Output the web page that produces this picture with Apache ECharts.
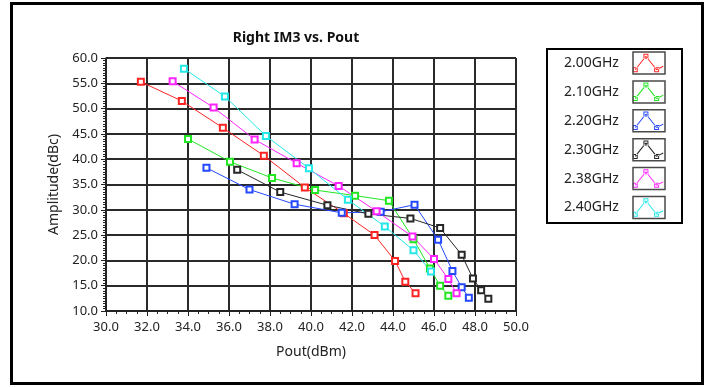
<!DOCTYPE html>
<html>
<head>
<meta charset="utf-8">
<script src="https://cdn.jsdelivr.net/npm/echarts@6/dist/echarts.min.js"></script>
<style>
html,body{margin:0;padding:0;background:#fff;}
#chart{width:710px;height:387px;}
</style>
</head>
<body>
<div id="chart"></div>
<script>
// ---- data ----
var seriesNames = ['2.00GHz', '2.10GHz', '2.20GHz', '2.30GHz', '2.38GHz', '2.40GHz'];
var xTicks = [30, 32, 34, 36, 38, 40, 42, 44, 46, 48, 50];
var yTicks = [10, 15, 20, 25, 30, 35, 40, 45, 50, 55, 60];

var pout200 = [31.7, 33.7, 35.7, 37.7, 39.7, 41.6, 43.1, 44.1, 44.6, 45.1];
var im3_200 = [55.3, 51.5, 46.2, 40.7, 34.4, 29.3, 25.0, 19.9, 15.8, 13.5];

var pout210 = [34.0, 36.05, 38.1, 40.2, 42.15, 43.8, 45.0, 45.8, 46.3, 46.7];
var im3_210 = [44.0, 39.5, 36.3, 33.9, 32.8, 31.8, 24.2, 18.4, 15.0, 13.0];

var pout220 = [34.9, 37.0, 39.2, 41.5, 43.4, 45.05, 46.2, 46.9, 47.35, 47.7];
var im3_220 = [38.3, 34.0, 31.1, 29.4, 29.6, 31.0, 24.1, 17.9, 14.7, 12.6];

var pout230 = [36.4, 38.5, 40.8, 42.8, 44.85, 46.3, 47.35, 47.9, 48.3, 48.65];
var im3_230 = [37.9, 33.5, 30.9, 29.2, 28.3, 26.4, 21.1, 16.4, 14.1, 12.4];

var pout238 = [33.25, 35.25, 37.25, 39.3, 41.35, 43.2, 44.95, 46.0, 46.7, 47.1];
var im3_238 = [55.4, 50.2, 43.9, 39.2, 34.7, 29.7, 24.7, 20.3, 16.3, 13.5];

var pout240 = [33.8, 35.8, 37.8, 39.9, 41.8, 43.6, 45.0, 45.85];
var im3_240 = [57.9, 52.4, 44.6, 38.2, 32.0, 26.7, 22.0, 17.8];

var seriesX = [pout200, pout210, pout220, pout230, pout238, pout240];
var seriesY = [im3_200, im3_210, im3_220, im3_230, im3_238, im3_240];

// ---- styles ----
var colors = ['#ff2424', '#22e622', '#2448ff', '#262626', '#ff24ff', '#24e8e8'];
var FONT = 'Noto Sans';

function pairs(xs, ys) {
  var out = [];
  for (var i = 0; i < xs.length; i++) out.push([xs[i], ys[i]]);
  return out;
}

// legend icon: zigzag line with hollow square markers, in a 32x22 box
function seg(ax, ay, bx, by, t) {
  var dx = bx - ax, dy = by - ay, L = Math.sqrt(dx * dx + dy * dy);
  var nx = -dy / L * t, ny = dx / L * t;
  return 'M' + (ax + nx) + ' ' + (ay + ny) + 'L' + (bx + nx) + ' ' + (by + ny) +
         'L' + (bx - nx) + ' ' + (by - ny) + 'L' + (ax - nx) + ' ' + (ay - ny) + 'Z';
}
function hsq(cx, cy, s, w) {
  var o = s / 2, i = o - w;
  return 'M' + (cx - o) + ' ' + (cy - o) + 'L' + (cx + o) + ' ' + (cy - o) + 'L' + (cx + o) + ' ' + (cy + o) + 'L' + (cx - o) + ' ' + (cy + o) + 'Z' +
         'M' + (cx - i) + ' ' + (cy - i) + 'L' + (cx - i) + ' ' + (cy + i) + 'L' + (cx + i) + ' ' + (cy + i) + 'L' + (cx + i) + ' ' + (cy - i) + 'Z';
}
var iconPath = 'path://' +
  'M0 0L0.01 0L0.01 0.01L0 0.01Z' + 'M32 22L31.99 22L31.99 21.99L32 21.99Z' +
  seg(3.3, 17.7, 14, 4.2, 0.5) + seg(14, 4.2, 24.7, 17.7, 0.5) + seg(24.7, 17.7, 31.3, 14.3, 0.5) +
  hsq(3.3, 17.7, 5, 1) + hsq(14, 4.2, 5, 1) + hsq(24.7, 17.7, 5, 1);

var series = [];
for (var k = 0; k < seriesNames.length; k++) {
  series.push({
    name: seriesNames[k],
    type: 'line',
    data: pairs(seriesX[k], seriesY[k]),
    symbol: 'emptyRect',
    symbolSize: 6,
    showSymbol: true,
    lineStyle: { width: 1, color: colors[k] },
    itemStyle: { color: colors[k], borderWidth: 1 },
    emphasis: { disabled: true },
    animation: false
  });
}

var chart = echarts.init(document.getElementById('chart'), null, { renderer: 'canvas' });

var legendBoxes = [];
for (var j = 0; j < seriesNames.length; j++) {
  legendBoxes.push({
    type: 'rect', silent: true, z: 5,
    shape: { x: 633, y: 52 + j * 28.9, width: 32, height: 22 },
    style: { fill: 'none', stroke: '#4a4a4a', lineWidth: 1.5 }
  });
}

chart.setOption({
  backgroundColor: '#fff',
  animation: false,
  color: colors,
  title: {
    text: 'Right IM3 vs. Pout',
    left: 291, top: 26, textAlign: 'center',
    textStyle: { fontFamily: FONT, fontSize: 14, fontWeight: 'bold', color: '#111' }
  },
  grid: { left: 106, top: 58, width: 410, height: 253, show: true, borderColor: '#222', borderWidth: 1, backgroundColor: '#fff' },
  legend: {
    data: seriesNames,
    orient: 'vertical',
    left: 564, top: 52,
    padding: 0,
    align: 'right',
    itemWidth: 32, itemHeight: 22, itemGap: 6.9,
    icon: iconPath,
    selectedMode: false,
    textStyle: { fontFamily: FONT, fontSize: 14, color: '#222', padding: [0, 8, 0, 0] }
  },
  xAxis: {
    type: 'value', min: xTicks[0], max: xTicks[xTicks.length - 1], interval: 2,
    name: 'Pout(dBm)', nameLocation: 'middle', nameGap: 34,
    nameTextStyle: { fontFamily: FONT, fontSize: 14, color: '#222' },
    axisLine: { show: true, onZero: false, lineStyle: { color: '#222', width: 1.5 } },
    axisTick: { show: true, length: 5, lineStyle: { color: '#222' } },
    minorTick: { show: true, splitNumber: 4, length: 3, lineStyle: { color: '#222' } },
    axisLabel: { margin: 10, fontFamily: FONT, fontSize: 13, color: '#222', formatter: function (v) { return v.toFixed(1); } },
    splitLine: { show: true, lineStyle: { color: '#2a2a2a', width: 2 } }
  },
  yAxis: {
    type: 'value', min: yTicks[0], max: yTicks[yTicks.length - 1], interval: 5,
    name: 'Amplitude(dBc)', nameLocation: 'middle', nameGap: 45, nameRotate: 90,
    nameTextStyle: { fontFamily: FONT, fontSize: 14, color: '#222' },
    axisLine: { show: true, onZero: false, lineStyle: { color: '#222', width: 1.5 } },
    axisTick: { show: true, length: 5, lineStyle: { color: '#222' } },
    minorTick: { show: true, splitNumber: 10, length: 3, lineStyle: { color: '#222' } },
    axisLabel: { margin: 8, fontFamily: FONT, fontSize: 13, color: '#222', formatter: function (v) { return v.toFixed(1); } },
    splitLine: { show: true, lineStyle: { color: '#2a2a2a', width: 2 } }
  },
  graphic: [
    { type: 'rect', silent: true, z: 5, shape: { x: 11.5, y: 3.5, width: 691, height: 380 }, style: { fill: 'none', stroke: '#000', lineWidth: 3 } },
    { type: 'rect', silent: true, z: 5, shape: { x: 547, y: 49, width: 135, height: 174 }, style: { fill: 'none', stroke: '#000', lineWidth: 2 } }
  ].concat(legendBoxes),
  series: series
});
</script>
</body>
</html>
